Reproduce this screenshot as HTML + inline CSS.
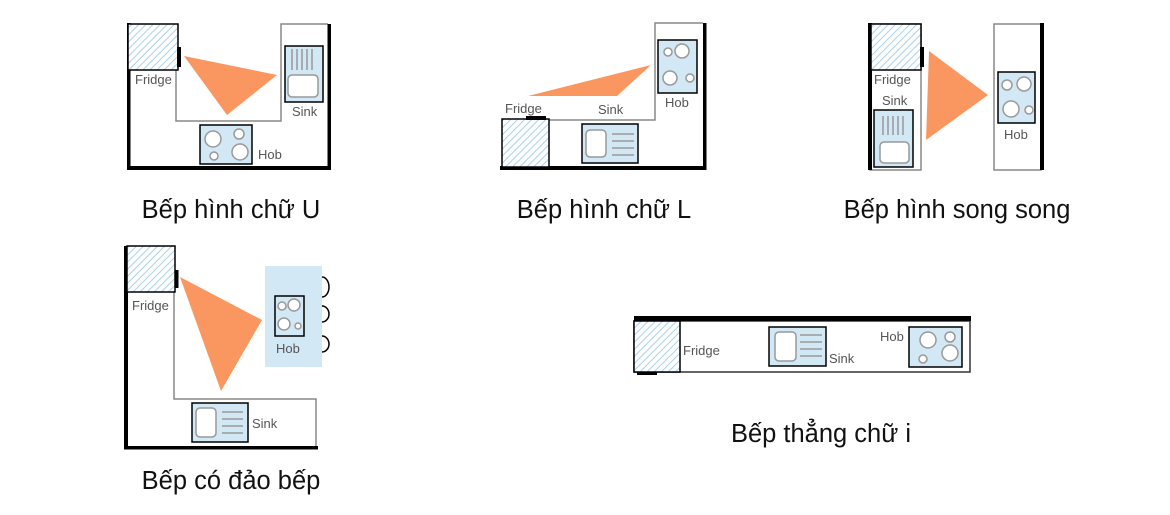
<!DOCTYPE html>
<html><head><meta charset="utf-8"><style>
html,body{margin:0;padding:0;background:#fff;width:1170px;height:515px;overflow:hidden}
svg text{font-family:"Liberation Sans","DejaVu Sans",sans-serif}
.cap{font-size:25.5px;fill:#111;text-anchor:middle}
.lb{font-size:13px;fill:#555}
.g{stroke:#888;stroke-width:1.5;fill:none}
.w{fill:#000}
.fr{fill:url(#hatch);stroke:#000;stroke-width:1.5}
.bx{fill:#d3e8f5;stroke:#000;stroke-width:1.5}
.ck{fill:#fff;stroke:#999;stroke-width:1.5}
.ln{stroke:#999;stroke-width:1.5}
.tri{fill:#fa9760}
</style></head><body>
<svg width="1170" height="515" viewBox="0 0 1170 515">
<defs><pattern id="hatch" width="5" height="5" patternUnits="userSpaceOnUse" patternTransform="rotate(45)"><rect width="5" height="5" fill="#fff"/><line x1="0" y1="0" x2="0" y2="5" stroke="#a9d1ea" stroke-width="2"/></pattern></defs>

<!-- U -->
<g>
<path class="g" d="M176 70 V121 H281 V24 H328"/>
<rect class="w" x="127" y="23" width="3.5" height="147"/>
<rect class="w" x="127" y="166" width="204" height="4"/>
<rect class="w" x="327.5" y="24" width="3.5" height="146"/>
<rect class="fr" x="128" y="24" width="50" height="46"/>
<rect class="w" x="177" y="47" width="4" height="20"/>
<polygon class="tri" points="184,56 277,75 227,115"/>
<g><rect class="bx" x="285" y="46" width="38" height="56"/>
<line class="ln" x1="292" y1="49" x2="292" y2="70"/><line class="ln" x1="297" y1="49" x2="297" y2="70"/><line class="ln" x1="302" y1="49" x2="302" y2="70"/><line class="ln" x1="307" y1="49" x2="307" y2="70"/><line class="ln" x1="312" y1="49" x2="312" y2="70"/>
<rect class="ck" x="288" y="75" width="30" height="22" rx="4"/></g>
<g><rect class="bx" x="200" y="125" width="52" height="39"/>
<circle class="ck" cx="213" cy="139" r="8"/><circle class="ck" cx="239" cy="134" r="5"/><circle class="ck" cx="214" cy="156" r="4"/><circle class="ck" cx="240" cy="152" r="8"/></g>
<text class="lb" x="135" y="84">Fridge</text><text class="lb" x="292" y="116">Sink</text><text class="lb" x="258" y="159">Hob</text>
<text class="cap" x="231" y="218">Bếp hình chữ U</text>
</g>

<!-- L -->
<g>
<path class="g" d="M549 120 H655 V23 H703"/>
<rect class="w" x="703" y="23" width="3.5" height="147"/>
<rect class="w" x="500" y="166" width="206" height="4"/>
<rect class="fr" x="502" y="119" width="47" height="48"/>
<rect class="w" x="526" y="116" width="20" height="4"/>
<polygon class="tri" points="528,96 651,65 617,96"/>
<g><rect class="bx" x="658" y="40" width="39" height="53"/>
<circle class="ck" cx="668" cy="52" r="4"/><circle class="ck" cx="682" cy="51" r="7"/><circle class="ck" cx="670" cy="78" r="7"/><circle class="ck" cx="690" cy="78" r="4"/></g>
<g><rect class="bx" x="582" y="124" width="56" height="39"/>
<rect class="ck" x="586" y="130" width="20" height="27" rx="4"/>
<line class="ln" x1="612" y1="134" x2="634" y2="134"/><line class="ln" x1="612" y1="141" x2="634" y2="141"/><line class="ln" x1="612" y1="148" x2="634" y2="148"/><line class="ln" x1="612" y1="155" x2="634" y2="155"/></g>
<text class="lb" x="505" y="113">Fridge</text><text class="lb" x="598" y="114">Sink</text><text class="lb" x="665" y="107">Hob</text>
<text class="cap" x="604" y="218">Bếp hình chữ L</text>
</g>

<!-- parallel -->
<g>
<rect class="g" x="870" y="24" width="51" height="146"/>
<rect class="w" x="868" y="23" width="4" height="147"/>
<rect class="fr" x="871" y="24" width="50" height="46"/>
<rect class="w" x="920" y="47" width="4" height="20"/>
<g><rect class="bx" x="874" y="110" width="39" height="57"/>
<line class="ln" x1="883" y1="116" x2="883" y2="135"/><line class="ln" x1="888" y1="116" x2="888" y2="135"/><line class="ln" x1="893" y1="116" x2="893" y2="135"/><line class="ln" x1="898" y1="116" x2="898" y2="135"/><line class="ln" x1="903" y1="116" x2="903" y2="135"/>
<rect class="ck" x="880" y="142" width="29" height="21" rx="4"/></g>
<polygon class="tri" points="929,51 988,95 926,140"/>
<rect class="g" x="994" y="24" width="47" height="146"/>
<rect class="w" x="1040" y="23" width="4" height="147"/>
<g><rect class="bx" x="998" y="72" width="37" height="51"/>
<circle class="ck" cx="1007" cy="85" r="5"/><circle class="ck" cx="1024" cy="84" r="7"/><circle class="ck" cx="1011" cy="109" r="8"/><circle class="ck" cx="1029" cy="110" r="4"/></g>
<text class="lb" x="874" y="84">Fridge</text><text class="lb" x="882" y="105">Sink</text><text class="lb" x="1004" y="139">Hob</text>
<text class="cap" x="957" y="218">Bếp hình song song</text>
</g>

<!-- island -->
<g>
<path class="g" d="M174 292 V399 H316 V446"/>
<rect class="w" x="124" y="246" width="4" height="203"/>
<rect class="w" x="124" y="446" width="194" height="3.5"/>
<rect class="fr" x="127" y="246" width="48" height="46"/>
<rect class="w" x="175" y="270" width="3.5" height="18"/>
<polygon class="tri" points="180,277 262,320 221,391"/>
<rect x="265" y="266" width="57" height="101" fill="#d3e8f5"/>
<path d="M322 277 a7 10 0 0 1 0 20 M322 306 a7 8 0 0 1 0 16 M322 336 a7 8 0 0 1 0 16" stroke="#000" stroke-width="1.5" fill="none"/>
<g><rect class="bx" x="275" y="296" width="29" height="40"/>
<circle class="ck" cx="282" cy="306" r="4"/><circle class="ck" cx="294" cy="305" r="6"/><circle class="ck" cx="284" cy="324" r="6"/><circle class="ck" cx="298" cy="326" r="3"/></g>
<g><rect class="bx" x="192" y="403" width="56" height="39"/>
<rect class="ck" x="196" y="408" width="20" height="29" rx="4"/>
<line class="ln" x1="222" y1="412" x2="243" y2="412"/><line class="ln" x1="222" y1="419" x2="243" y2="419"/><line class="ln" x1="222" y1="426" x2="243" y2="426"/><line class="ln" x1="222" y1="433" x2="243" y2="433"/></g>
<text class="lb" x="132" y="310">Fridge</text><text class="lb" x="276" y="353">Hob</text><text class="lb" x="252" y="428">Sink</text>
<text class="cap" x="231" y="489">Bếp có đảo bếp</text>
</g>

<!-- straight -->
<g>
<rect class="g" x="634" y="321" width="336" height="51" style="stroke:#333"/>
<rect class="w" x="634" y="316" width="337" height="5"/>
<rect class="fr" x="634" y="321" width="46" height="51"/>
<rect class="w" x="637" y="372" width="20" height="3"/>
<g><rect class="bx" x="769" y="327" width="57" height="39"/>
<rect class="ck" x="775" y="332" width="21" height="29" rx="4"/>
<line class="ln" x1="800" y1="335" x2="822" y2="335"/><line class="ln" x1="800" y1="342" x2="822" y2="342"/><line class="ln" x1="800" y1="349" x2="822" y2="349"/><line class="ln" x1="800" y1="356" x2="822" y2="356"/></g>
<g><rect class="bx" x="909" y="327" width="53" height="40"/>
<circle class="ck" cx="928" cy="340" r="8"/><circle class="ck" cx="950" cy="337" r="5"/><circle class="ck" cx="923" cy="359" r="4"/><circle class="ck" cx="950" cy="353" r="8"/></g>
<text class="lb" x="683" y="355">Fridge</text><text class="lb" x="829" y="363">Sink</text><text class="lb" x="880" y="341">Hob</text>
<text class="cap" x="821" y="442">Bếp thẳng chữ i</text>
</g>
</svg>
</body></html>
